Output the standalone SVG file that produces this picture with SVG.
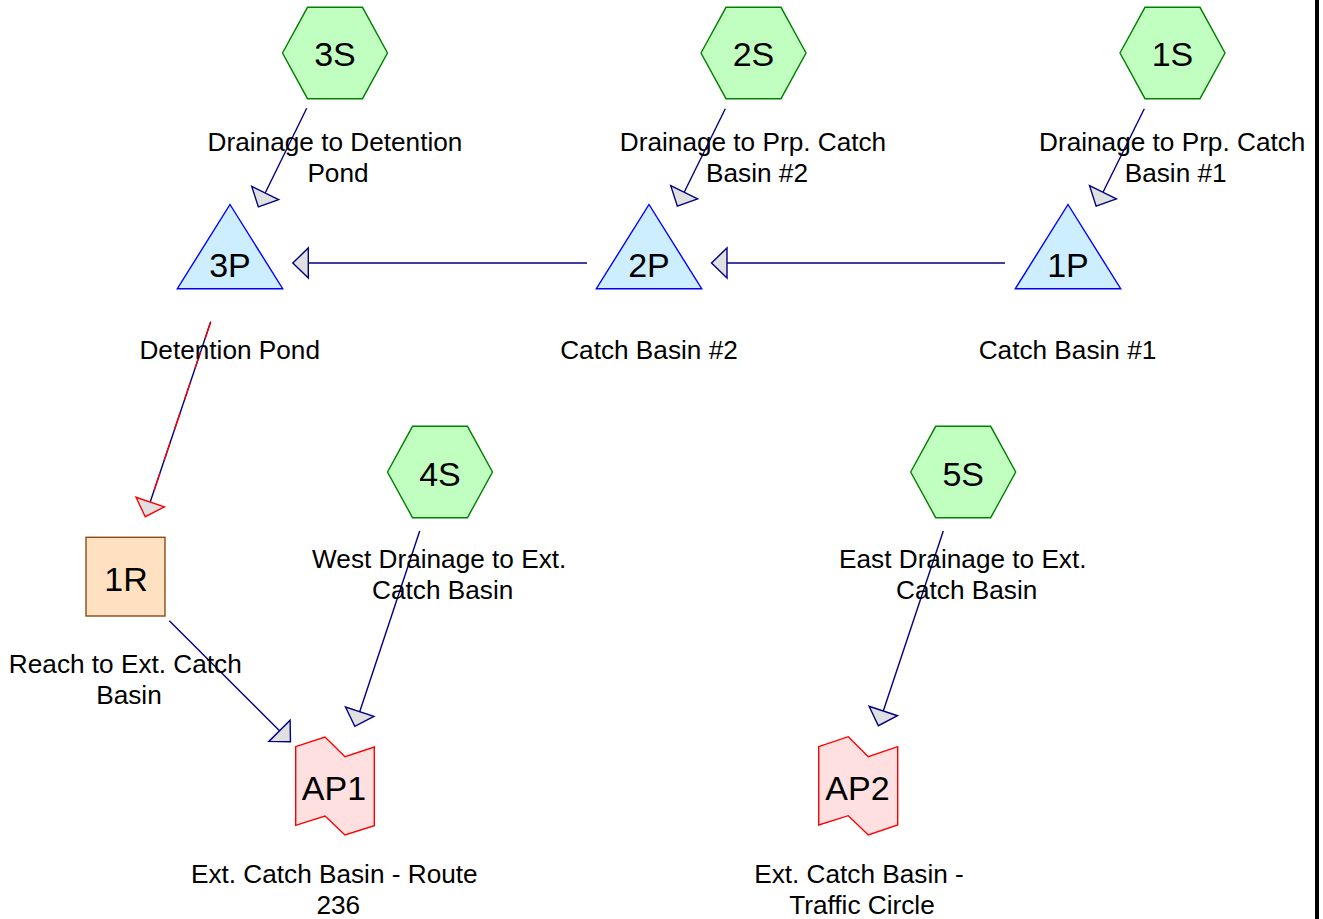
<svg xmlns="http://www.w3.org/2000/svg" width="1323" height="919" viewBox="0 0 1323 919">
<style>
text{font-family:"Liberation Sans",Arial,sans-serif;fill:#000;text-anchor:middle}
.id{font-size:34px}
.lb{font-size:26.2px}
.hex{fill:#c0ffc0;stroke:#008000;stroke-width:1.4}
.pond{fill:#cceeff;stroke:#0000ff;stroke-width:1.4}
.reach{fill:#ffe0c0;stroke:#8b4b13;stroke-width:1.4}
.ap{fill:#ffe0e0;stroke:#ff0000;stroke-width:1.4}
.conn{stroke:#000080;stroke-width:1.4;fill:none;marker-end:url(#arr)}
.dash{stroke:#ff0000;stroke-width:1.4;fill:none;stroke-dasharray:18 14}
</style>
<defs>
<marker id="arr" markerUnits="userSpaceOnUse" orient="auto" refX="0" refY="0" markerWidth="20" markerHeight="34" viewBox="-2 -17 20 34" overflow="visible">
<path d="M0,-15 L15.5,0 L0,15 Z" fill="#e0e0e0" stroke="#000080" stroke-width="1.4" stroke-linejoin="miter"/>
</marker>
<marker id="arrR" markerUnits="userSpaceOnUse" orient="auto" refX="0" refY="0" markerWidth="20" markerHeight="34" viewBox="-2 -17 20 34" overflow="visible">
<path d="M0,-15 L15.5,0 L0,15 Z" fill="#e0e0e0" stroke="#ff0000" stroke-width="1.4" stroke-linejoin="miter"/>
</marker>
</defs>
<rect x="0" y="0" width="1323" height="919" fill="#ffffff"/>
<rect x="1315" y="0" width="4" height="919" fill="#000000"/>

<g id="connectors">
<line class="conn" x1="306.7" y1="108.3" x2="265.2" y2="193"/>
<line class="conn" x1="725.3" y1="108.7" x2="684.2" y2="192.3"/>
<line class="conn" x1="1144.3" y1="108.7" x2="1103" y2="192.3"/>
<line class="conn" x1="1005" y1="263" x2="727" y2="263"/>
<line class="conn" x1="587" y1="263" x2="308.3" y2="263"/>
<line x1="210.7" y1="321.7" x2="150.2" y2="502" stroke="#000080" stroke-width="1.4" marker-end="url(#arrR)"/>
<line class="dash" x1="210.7" y1="321.7" x2="150.2" y2="502"/>
<line class="conn" x1="169.3" y1="620.7" x2="279.5" y2="730.8"/>
<line class="conn" x1="419.7" y1="531" x2="359.7" y2="711.7"/>
<line class="conn" x1="943.3" y1="531" x2="883.3" y2="711"/>
</g>

<g id="node-3S">
<polygon class="hex" points="282.5,53 307.5,7.3 362.5,7.3 387.5,53 362.5,98.7 307.5,98.7"/>
<text class="id" x="335" y="66">3S</text>
<text class="lb" x="335" y="150.7">Drainage to Detention</text>
<text class="lb" x="338" y="181.7">Pond</text>
</g>
<g id="node-2S">
<polygon class="hex" points="701,53 726,7.3 781,7.3 806,53 781,98.7 726,98.7"/>
<text class="id" x="753.5" y="66">2S</text>
<text class="lb" x="753" y="150.7">Drainage to Prp. Catch</text>
<text class="lb" x="757" y="181.7">Basin #2</text>
</g>
<g id="node-1S">
<polygon class="hex" points="1120,53 1145,7.3 1200,7.3 1225,53 1200,98.7 1145,98.7"/>
<text class="id" x="1172.5" y="66">1S</text>
<text class="lb" x="1172.2" y="150.7">Drainage to Prp. Catch</text>
<text class="lb" x="1175.7" y="181.7">Basin #1</text>
</g>
<g id="node-3P">
<polygon class="pond" points="230,204.5 282.7,288.7 177.3,288.7"/>
<text class="id" x="230" y="277.3">3P</text>
<text class="lb" x="229.7" y="359">Detention Pond</text>
</g>
<g id="node-2P">
<polygon class="pond" points="649,204.5 701.7,288.7 596.3,288.7"/>
<text class="id" x="649" y="277.3">2P</text>
<text class="lb" x="649" y="359">Catch Basin #2</text>
</g>
<g id="node-1P">
<polygon class="pond" points="1068,204.5 1120.7,288.7 1015.3,288.7"/>
<text class="id" x="1068" y="277.3">1P</text>
<text class="lb" x="1067.5" y="359">Catch Basin #1</text>
</g>
<g id="node-4S">
<polygon class="hex" points="387.5,472 412.5,426.3 467.5,426.3 492.5,472 467.5,517.7 412.5,517.7"/>
<text class="id" x="440" y="485.5">4S</text>
<text class="lb" x="439.2" y="568.3">West Drainage to Ext.</text>
<text class="lb" x="442.7" y="599">Catch Basin</text>
</g>
<g id="node-5S">
<polygon class="hex" points="910.7,472 935.7,426.3 990.7,426.3 1015.7,472 990.7,517.7 935.7,517.7"/>
<text class="id" x="963.2" y="485.5">5S</text>
<text class="lb" x="962.8" y="568.3">East Drainage to Ext.</text>
<text class="lb" x="966.7" y="599">Catch Basin</text>
</g>
<g id="node-1R">
<rect class="reach" x="86" y="537.3" width="79" height="78.7"/>
<text class="id" x="126" y="591">1R</text>
<text class="lb" x="125.3" y="673.3">Reach to Ext. Catch</text>
<text class="lb" x="129" y="704.3">Basin</text>
</g>
<g id="node-AP1">
<polygon class="ap" points="295.7,746.7 325,737 345,756.7 374.3,747 374.3,825.7 345,835 325,816 295.7,825.3"/>
<text class="id" x="334" y="800">AP1</text>
<text class="lb" x="334.3" y="882.7">Ext. Catch Basin - Route</text>
<text class="lb" x="338.3" y="914">236</text>
</g>
<g id="node-AP2">
<polygon class="ap" points="818.7,746.7 848.3,736.7 868.3,756.7 897.7,746.7 897.7,825 868.3,835 848.3,815.7 818.7,825"/>
<text class="id" x="857.5" y="800">AP2</text>
<text class="lb" x="859" y="882.7">Ext. Catch Basin -</text>
<text class="lb" x="862" y="914">Traffic Circle</text>
</g>
</svg>
